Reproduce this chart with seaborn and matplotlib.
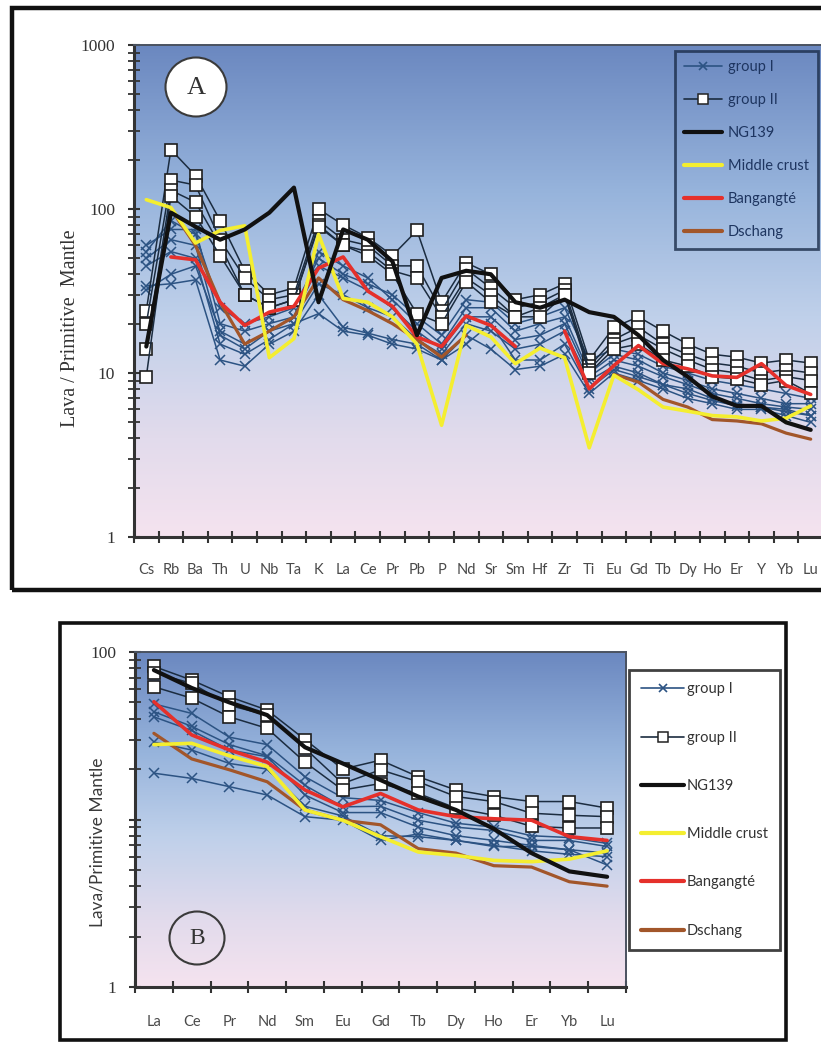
import numpy as np
import matplotlib
matplotlib.use("Agg")
import matplotlib.pyplot as plt
import seaborn as sns
from matplotlib.colors import LinearSegmentedColormap
from matplotlib.lines import Line2D
from matplotlib.patches import Rectangle, Ellipse
from matplotlib.ticker import FixedLocator, LogLocator, NullFormatter, FixedFormatter

sns.set_theme(style="white")
plt.rcParams["font.family"] = ["DejaVu Sans"]

nan = np.nan

# ---------------- Panel A data (spider diagram) ----------------
elements_a = ["Cs", "Rb", "Ba", "Th", "U", "Nb", "Ta", "K", "La", "Ce", "Pr", "Pb", "P", "Nd",
              "Sr", "Sm", "Hf", "Zr", "Ti", "Eu", "Gd", "Tb", "Dy", "Ho", "Er", "Y", "Yb", "Lu"]

a_g1_s1 = [60, 75, 75, 20, 18, 20, 22, 55, 45, 38, 28, 20, 15, 25, 25, 18, 20, 22, 10, 13, 12, 10, 9, 8, 7.5, 7, 6.5, 6.5]
a_g1_s2 = [50, 65, 60, 17, 14, 18, 22, 45, 38, 32, 25, 18, 14, 22, 22, 16, 17, 20, 9.5, 12, 11, 9.5, 8.5, 7.5, 7, 6.5, 6.2, 6]
a_g1_s3 = [45, 55, 50, 15, 13, 16, 20, 35, 30, 25, 22, 16, 13, 20, 18, 14, 15, 18, 9, 11, 10, 8.5, 8, 7, 6.5, 6.2, 6, 5.5]
a_g1_s4 = [34, 35, 37, 12, 11, 15, 18, 30, 19, 17.5, 16, 15, 12, 17, 14, 10.5, 11, 13, 7.5, 10, 9, 8, 7, 6.5, 6, 6, 5.5, 5]
a_g1_s5 = [32, 40, 45, 18, 15, 18, 20, 23, 18, 17, 15, 14, 12, 15, 20, 12, 12, 15, 8, 10.5, 9.5, 8.5, 7.5, 6.8, 6.3, 6.2, 5.8, 5.5]
a_g1_s6 = [55, 85, 70, 25, 20, 22, 25, 50, 40, 35, 30, 22, 17, 28, 27, 20, 22, 25, 12, 14, 13, 11, 10, 9, 8.5, 8, 7.5, 7]

a_g2_s1 = [24, 230, 160, 85, 42, 30, 33, 100, 80, 67, 52, 74, 27, 47, 40, 28, 30, 35, 12, 19, 22, 18, 15, 13, 12.5, 11.5, 12, 11.5]
a_g2_s2 = [20, 150, 140, 65, 38, 28, 30, 85, 65, 60, 45, 45, 24, 43, 33, 25, 27, 32, 11, 16, 19, 15, 13, 11.5, 11, 10, 10.5, 10]
a_g2_s3 = [14, 130, 110, 60, 30, 25, 28, 80, 60, 55, 42, 38, 22, 38, 30, 22, 25, 30, 10.5, 15, 17, 14, 12, 10.5, 10, 9, 9.5, 9]
a_g2_s4 = [9.5, 120, 90, 52, 30, 25, 28, 78, 60, 52, 40, 23, 20, 36, 27, 22, 22, 30, 10, 14, 15, 12, 11, 9.5, 9.2, 8.5, 9, 7.5]

a_ng139 = [14.5, 95, 78, 65, 75, 95, 135, 27, 75, 65, 48, 17, 38, 42, 40, 27, 25, 28, 23.5, 22, 17, 12, 9.5, 7.2, 6.3, 6.3, 5.0, 4.5]
a_middle_crust = [114, 102, 62, 74, 79, 12.4, 16.2, 70, 28.5, 27, 22, 15, 4.8, 19.5, 16.6, 11.4, 14.2, 12.4, 3.5, 9.7, 7.9, 6.2, 5.85, 5.5, 5.4, 5.1, 5.3, 6.3]
a_bangangte = [nan, 51, 49, 27, 19.5, 23.5, 25.5, 43.6, 51, 31.6, 25.5, 16.6, 14.5, 22.3, 19.5, 14.5, nan, 18, 8.0, 11.1, 14.7, 11.4, 10.6, 9.6, 9.4, 11.4, 8.4, 7.4]
a_dschang = [nan, 100, 60, 27, 15, 18, 22, 38, 28, 24, 20, 16, 12.5, 17, nan, nan, nan, nan, nan, 9.8, 8.8, 6.9, 6.2, 5.2, 5.1, 4.9, 4.3, 3.95]

# ---------------- Panel B data (REE) ----------------
elements_b = ["La", "Ce", "Pr", "Nd", "Sm", "Eu", "Gd", "Tb", "Dy", "Ho", "Er", "Yb", "Lu"]

b_g1_s1 = [49, 43, 31, 28, 18, 13.5, 13, 11, 9.5, 9, 8, 7.8, 7.2]
b_g1_s2 = [44, 36, 28, 24, 16, 11.9, 12, 9.9, 9, 8.6, 7.5, 7.5, 6.9]
b_g1_s3 = [41, 34, 26, 23.7, 14, 11, 11, 9, 8, 7.5, 7, 6.6, 6.3]
b_g1_s4 = [29, 26, 21.6, 20, 12, 10.5, 8, 7.9, 7.5, 6.9, 6.9, 6.6, 5.35]
b_g1_s5 = [18.9, 17.6, 15.7, 14, 10.4, 9.9, 7.5, 8.2, 7.5, 7, 6.5, 6.2, 6]

b_g2_s1 = [82, 68, 54, 45, 30, 20, 22.6, 18, 15, 13.7, 12.8, 12.8, 11.7]
b_g2_s2 = [75, 65, 48, 42, 26.6, 16.4, 19.8, 16.8, 13.7, 12.8, 10.9, 10.6, 10.4]
b_g2_s3 = [62, 53, 41, 35, 22, 15, 16.4, 14.3, 11.7, 10.6, 9.1, 8.9, 8.9]

b_ng139 = [78, 61, 50, 42, 27, 21.6, 17.2, 13.7, 11.4, 8.8, 6.3, 4.9, 4.55]
b_middle_crust = [28, 28.5, 24, 20.7, 11.4, 9.9, 7.9, 6.4, 6.1, 5.7, 5.6, 5.8, 6.5]
b_bangangte = [50.5, 32, 26, 22, 15, 11.9, 14.3, 11.4, 10.4, 10.1, 9.9, 7.9, 7.5]
b_dschang = [32.7, 23, 19.8, 16.8, 11.4, 9.9, 9.3, 6.7, 6.3, 5.3, 5.2, 4.25, 4.0]

legend_labels = ["group I", "group II", "NG139", "Middle crust", "Bangangté", "Dschang"]

# ---------------- style ----------------
C_G1 = "#2c5383"
C_G2 = "#1b2c40"
C_NG = "#111111"
C_MC = "#f4ee30"
C_BA = "#e5302b"
C_DS = "#a2562a"

W, H = 821, 1042
fig = plt.figure(figsize=(W / 100, H / 100), dpi=100)
fig.patch.set_facecolor("white")


def fx(px):
    return px / W


def fy(py):
    return 1 - py / H


def rect(l, t, r, b):
    return [fx(l), fy(b), fx(r) - fx(l), fy(t) - fy(b)]


grad_cmap = LinearSegmentedColormap.from_list(
    "bg", [(0.0, "#f5e3ef"), (0.2, "#e2dbec"), (0.45, "#bfd0ea"), (0.7, "#97b4dc"), (1.0, "#6b88c0")])


def background(pos):
    bg = fig.add_axes(pos, zorder=0)
    g = np.linspace(0, 1, 256).reshape(-1, 1)
    bg.imshow(g, aspect="auto", cmap=grad_cmap, origin="lower", extent=[0, 1, 0, 1])
    bg.set_axis_off()


def draw(ax, values, **kw):
    v = np.array(values, dtype=float)
    idx = np.arange(len(v))
    ok = ~np.isnan(v)
    segs, cur = [], []
    for i in idx:
        if ok[i]:
            cur.append(i)
        else:
            if cur:
                segs.append(cur)
            cur = []
    if cur:
        segs.append(cur)
    for s in segs:
        sns.lineplot(x=idx[s], y=v[s], ax=ax, estimator=None, sort=False, legend=False, **kw)


def style_axes(ax, n, ymin, ymax, majors, major_labels, xlabels, xpad, show_right=True):
    ax.set_yscale("log")
    ax.set_xlim(-0.5, n - 0.5)
    ax.set_ylim(ymin, ymax)
    ax.set_facecolor("none")
    ax.yaxis.set_major_locator(FixedLocator(majors))
    ax.yaxis.set_major_formatter(FixedFormatter(major_labels))
    ax.yaxis.set_minor_locator(LogLocator(base=10, subs=np.arange(2, 10)))
    ax.yaxis.set_minor_formatter(NullFormatter())
    ax.set_xticks(np.arange(n))
    ax.set_xticklabels(xlabels, fontfamily="Lato", fontsize=10.5, color="#4a4a4a")
    ax.set_xticks(np.arange(n + 1) - 0.5, minor=True)
    ax.tick_params(axis="x", which="major", length=0, pad=xpad)
    ax.tick_params(axis="x", which="minor", length=9, width=1.5, direction="inout", color="#333333")
    ax.tick_params(axis="y", which="major", length=9, width=1.5, direction="inout", color="#333333", pad=9,
                   labelsize=12.5, labelcolor="#333333")
    ax.tick_params(axis="y", which="minor", length=8, width=1.3, direction="inout", color="#333333")
    ax.tick_params(left=True, bottom=True, which="both")
    for lab in ax.get_yticklabels():
        lab.set_fontfamily("Liberation Serif")
    ax.set_xlabel("")
    ax.set_ylabel("")
    for side in ["left", "bottom"]:
        ax.spines[side].set_color("#333333")
        ax.spines[side].set_linewidth(2.2)
    for side in ["top", "right"]:
        ax.spines[side].set_color("#4a5260")
        ax.spines[side].set_linewidth(1.4)
    ax.spines["right"].set_visible(show_right)


def legend_handles(lw_main):
    return [
        Line2D([], [], color=C_G1, lw=1.2, marker="x", markersize=6, markeredgewidth=1.2),
        Line2D([], [], color=C_G2, lw=1.2, marker="s", markersize=7, markerfacecolor="white",
               markeredgecolor="#222222", markeredgewidth=1.1),
        Line2D([], [], color=C_NG, lw=lw_main),
        Line2D([], [], color=C_MC, lw=lw_main),
        Line2D([], [], color=C_BA, lw=lw_main),
        Line2D([], [], color=C_DS, lw=lw_main),
    ]


def plot_panel(ax, g1, g2, ng, mc, ba, ds, ms_sq):
    for s in g1:
        draw(ax, s, color=C_G1, linewidth=1.1, marker="x", markersize=7, markeredgewidth=1.1,
             markeredgecolor=C_G1, zorder=3)
    for s in g2:
        draw(ax, s, color=C_G2, linewidth=1.1, marker="s", markersize=ms_sq, markerfacecolor="white",
             markeredgecolor="#1e1e1e", markeredgewidth=1.2, zorder=4)
    draw(ax, ds, color=C_DS, linewidth=2.3, zorder=5)
    draw(ax, ba, color=C_BA, linewidth=2.6, zorder=6)
    draw(ax, mc, color=C_MC, linewidth=2.6, zorder=6)
    draw(ax, ng, color=C_NG, linewidth=3.0, zorder=7)


# ---------------- Panel A ----------------
posA = rect(134, 45, 823, 537)
background(posA)
axA = fig.add_axes(posA, zorder=1)
axA.set_yscale("log")
plot_panel(axA, [a_g1_s1, a_g1_s2, a_g1_s3, a_g1_s4, a_g1_s5, a_g1_s6],
           [a_g2_s1, a_g2_s2, a_g2_s3, a_g2_s4],
           a_ng139, a_middle_crust, a_bangangte, a_dschang, 8)
style_axes(axA, len(elements_a), 1, 1000, [1, 10, 100, 1000], ["1", "10", "100", "1000"], elements_a, 19,
           show_right=False)

legA = axA.legend(legend_handles(3.0), legend_labels, loc="upper left",
                  bbox_to_anchor=(fx(675), fy(51)), bbox_transform=fig.transFigure,
                  frameon=True, fancybox=False, fontsize=10.5, labelspacing=1.3,
                  handlelength=2.6, handletextpad=0.35, borderpad=0.65, borderaxespad=0)
legA.get_frame().set_facecolor("none")
legA.get_frame().set_edgecolor("#1b2d4a")
legA.get_frame().set_linewidth(2.0)
for t in legA.get_texts():
    t.set_fontfamily("Lato")
    t.set_color("#1e3560")

fig.text(fx(70), fy(328), "Lava / Primitive  Mantle", rotation=90, ha="center", va="center",
         fontfamily="Liberation Serif", fontsize=14.5, color="#333333")

fig.patches.append(Ellipse((fx(196), fy(87)), fx(61), 59 / H, transform=fig.transFigure,
                           facecolor="white", edgecolor="#3a3a3a", linewidth=1.5, zorder=10))
fig.text(fx(196), fy(88), "A", ha="center", va="center", fontfamily="Liberation Serif",
         fontsize=19, color="#333333", zorder=11)

fig.patches.append(Rectangle((fx(12), fy(590)), fx(850) - fx(12), fy(8) - fy(590),
                             transform=fig.transFigure, fill=False, edgecolor="#111111",
                             linewidth=3.2, zorder=20))

# ---------------- Panel B ----------------
posB = rect(135, 652, 626, 987)
background(posB)
axB = fig.add_axes(posB, zorder=1)
axB.set_yscale("log")
plot_panel(axB, [b_g1_s1, b_g1_s2, b_g1_s3, b_g1_s4, b_g1_s5],
           [b_g2_s1, b_g2_s2, b_g2_s3],
           b_ng139, b_middle_crust, b_bangangte, b_dschang, 9)
style_axes(axB, len(elements_b), 1, 100, [1, 10, 100], ["1", "", "100"], elements_b, 20)

legB = axB.legend(legend_handles(3.0), legend_labels, loc="upper left",
                  bbox_to_anchor=(fx(629), fy(670)), bbox_transform=fig.transFigure,
                  frameon=True, fancybox=False, fontsize=10.5, labelspacing=2.35,
                  handlelength=2.9, handletextpad=0.2, borderpad=0.85, borderaxespad=0)
legB.get_frame().set_facecolor("white")
legB.get_frame().set_edgecolor("#111111")
legB.get_frame().set_linewidth(2.0)
for t in legB.get_texts():
    t.set_fontfamily("Lato")
    t.set_color("#333333")

fig.text(fx(97), fy(842), "Lava/Primitive Mantle", rotation=90, ha="center", va="center",
         fontfamily="Lato", fontsize=12.5, color="#3a3a3a")

fig.patches.append(Ellipse((fx(197), fy(938)), fx(55), 53 / H, transform=fig.transFigure,
                           facecolor="none", edgecolor="#3a3a3a", linewidth=1.5, zorder=10))
fig.text(fx(197), fy(939), "B", ha="center", va="center", fontfamily="Liberation Serif",
         fontsize=17, color="#333333", zorder=11)

fig.patches.append(Rectangle((fx(60), fy(1040)), fx(786) - fx(60), fy(623) - fy(1040),
                             transform=fig.transFigure, fill=False, edgecolor="#111111",
                             linewidth=2.6, zorder=20))

fig.savefig("out.png", dpi=100, facecolor="white")
